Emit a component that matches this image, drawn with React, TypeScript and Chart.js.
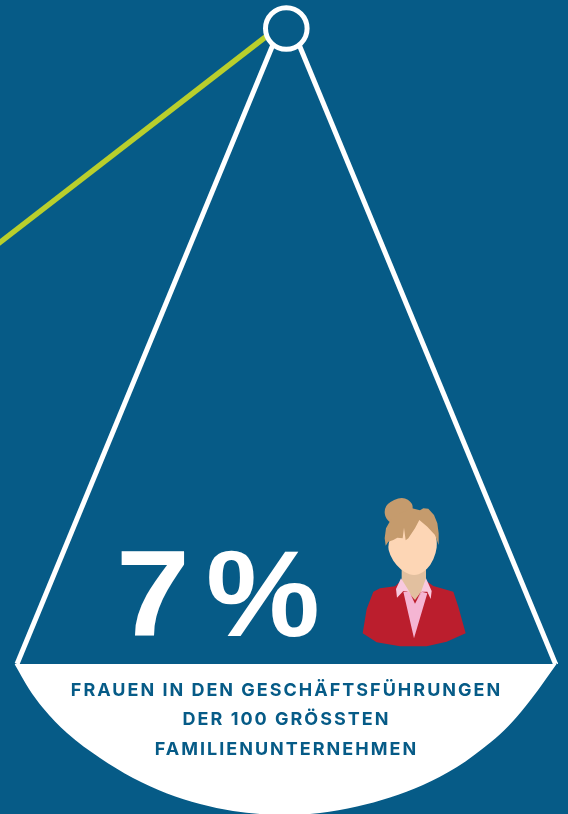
import { useEffect, useRef } from "react";
import { Chart, registerables } from "chart.js";

Chart.register(...registerables);

const NAVY = "#065b87";
const LIME = "#b9cf2c";
const WHITE = "#ffffff";

// Balance parts, in canvas units of the two linear scales
const beamX = [-6, 268];
const beamY = [247, 35];
const cordLeftX = [279, 17];
const cordLeftY = [30, 664];
const cordRightX = [293, 555.5];
const cordRightY = [30, 664];
const pivotX = [286.3];
const pivotY = [28.5];
const panX = [14.5, 29, 43, 67, 100, 133, 167, 200, 233, 267, 286, 320, 357, 390, 423, 457, 491, 508, 525, 541, 558];
const panY = [664, 689, 708, 733, 758, 778, 793.5, 804, 811, 814.5, 815, 813, 806.5, 797.5, 785, 767, 742, 726.5, 707, 686, 662];

const headline = "7";
const percentSign = "%";
const captionLines = [
  "FRAUEN IN DEN GESCHÄFTSFÜHRUNGEN",
  "DER 100 GRÖSSTEN",
  "FAMILIENUNTERNEHMEN",
];
const captionBaselines = [696, 725, 755];

// Portrait outlines: [x, y] in a local grid of 1/3 canvas unit
type Pt = [number, number];
const jacket: Pt[] = [[68, 445], [80, 372], [100, 320], [120, 310], [165, 304], [185, 285], [255, 285], [280, 303], [340, 320], [355, 365], [377, 445], [320, 470], [260, 484], [180, 484], [110, 472]];
const neck: Pt[] = [[185, 240], [258, 240], [258, 300], [225, 345], [185, 300]];
const shirt: Pt[] = [[190, 320], [208, 320], [225, 356], [245, 320], [262, 325], [222, 460]];
const collarLeft: Pt[] = [[183, 280], [168, 312], [171, 338], [190, 318], [207, 320], [223, 352], [205, 315]];
const collarRight: Pt[] = [[258, 280], [275, 318], [272, 342], [262, 320], [245, 320], [226, 356], [245, 315]];
const face: Pt[] = [[142, 178], [150, 212], [170, 242], [195, 263], [222, 272], [250, 263], [272, 240], [288, 205], [292, 170], [280, 120], [230, 95], [170, 110]];
const bun: Pt[] = [[132, 88], [138, 56], [187, 34], [220, 55], [216, 88], [170, 118], [146, 112]];
const hair: Pt[] = [[137, 182], [134, 160], [138, 130], [152, 105], [180, 85], [216, 70], [240, 76], [250, 70], [265, 71], [282, 90], [292, 115], [296, 145], [296, 180], [285, 150], [262, 125], [238, 105], [225, 130], [205, 160], [197, 166], [192, 128], [188, 160], [172, 158], [160, 165], [145, 170]];

const toPoints = (xs: number[], ys: number[]) => xs.map((x, i) => ({ x, y: ys[i] }));

const infographicText = {
  id: "infographicText",
  afterDatasetsDraw(chart: any) {
    const { ctx, scales } = chart;
    const sx = (v: number) => scales.x.getPixelForValue(v);
    const sy = (v: number) => scales.y.getPixelForValue(v);
    const lx = (v: number) => sx(340 + v / 3);
    const ly = (v: number) => sy(485 + v / 3);

    ctx.save();
    ctx.textBaseline = "alphabetic";

    // Large figure, slightly widened glyphs
    const wide = (text: string, x: number, size: number, stretch: number) => {
      ctx.save();
      ctx.translate(sx(x), sy(636));
      ctx.scale(stretch, 1);
      ctx.font = `bold ${size}px 'Liberation Sans'`;
      ctx.fillText(text, 0, 0);
      ctx.restore();
    };
    ctx.fillStyle = WHITE;
    ctx.textAlign = "left";
    wide(headline, 116, 123, 1.08);
    wide(percentSign, 206, 122, 1.05);

    // Caption in the pan
    ctx.fillStyle = NAVY;
    ctx.textAlign = "center";
    ctx.font = "700 18px Inter";
    (ctx as any).letterSpacing = "2px";
    captionLines.forEach((line, i) => ctx.fillText(line, sx(286.5), sy(captionBaselines[i])));
    (ctx as any).letterSpacing = "0px";

    const poly = (pts: Pt[], color: string) => {
      ctx.beginPath();
      pts.forEach(([x, y], i) => (i ? ctx.lineTo(lx(x), ly(y)) : ctx.moveTo(lx(x), ly(y))));
      ctx.closePath();
      ctx.fillStyle = color;
      ctx.fill();
    };
    const blob = (pts: Pt[], color: string) => {
      const n = pts.length;
      ctx.beginPath();
      const mid = (a: Pt, b: Pt): Pt => [(a[0] + b[0]) / 2, (a[1] + b[1]) / 2];
      const start = mid(pts[n - 1], pts[0]);
      ctx.moveTo(lx(start[0]), ly(start[1]));
      pts.forEach((p, i) => {
        const m = mid(p, pts[(i + 1) % n]);
        ctx.quadraticCurveTo(lx(p[0]), ly(p[1]), lx(m[0]), ly(m[1]));
      });
      ctx.closePath();
      ctx.fillStyle = color;
      ctx.fill();
    };

    // Portrait, back to front
    poly(jacket, "#bb1e2d");
    poly(neck, "#e2c09f");
    poly(shirt, "#f5b5d3");
    poly(collarLeft, "#f8c9de");
    poly(collarRight, "#f8c9de");
    blob(face, "#fdd6b5");
    blob(bun, "#c59b6d");
    poly(hair, "#c59b6d");
    ctx.restore();
  },
};

export default function App() {
  const ref = useRef<HTMLCanvasElement>(null);

  useEffect(() => {
    document.body.style.margin = "0";
    document.body.style.background = NAVY;
    const line = (xs: number[], ys: number[], color: string, width: number) => ({
      data: toPoints(xs, ys),
      showLine: true,
      borderColor: color,
      borderWidth: width,
      pointRadius: 0,
      fill: false,
    });
    const chart = new Chart(ref.current!, {
      type: "scatter",
      data: {
        datasets: [
          {
            data: toPoints(pivotX, pivotY),
            pointRadius: 20.8,
            pointBorderWidth: 5,
            pointBorderColor: WHITE,
            pointBackgroundColor: NAVY,
            order: 0,
          },
          { ...line(beamX, beamY, LIME, 5.5), order: 1 },
          { ...line(cordLeftX, cordLeftY, WHITE, 5), order: 1 },
          { ...line(cordRightX, cordRightY, WHITE, 5), order: 1 },
          {
            data: toPoints(panX, panY),
            showLine: true,
            borderWidth: 0,
            borderColor: WHITE,
            backgroundColor: WHITE,
            cubicInterpolationMode: "monotone",
            pointRadius: 0,
            fill: { value: 664 },
            order: 2,
          },
        ] as any,
      },
      options: {
        animation: false,
        responsive: false,
        layout: { padding: 0, autoPadding: false },
        events: [],
        plugins: { legend: { display: false }, tooltip: { enabled: false } },
        scales: {
          x: { type: "linear", min: 0, max: 568, display: false },
          y: { type: "linear", min: 0, max: 814, reverse: true, display: false },
        },
      },
      plugins: [infographicText],
    });
    return () => chart.destroy();
  }, []);

  return (
    <div style={{ width: 568, height: 814, background: NAVY, overflow: "hidden" }}>
      <canvas ref={ref} width={568} height={814} style={{ display: "block" }} />
    </div>
  );
}
